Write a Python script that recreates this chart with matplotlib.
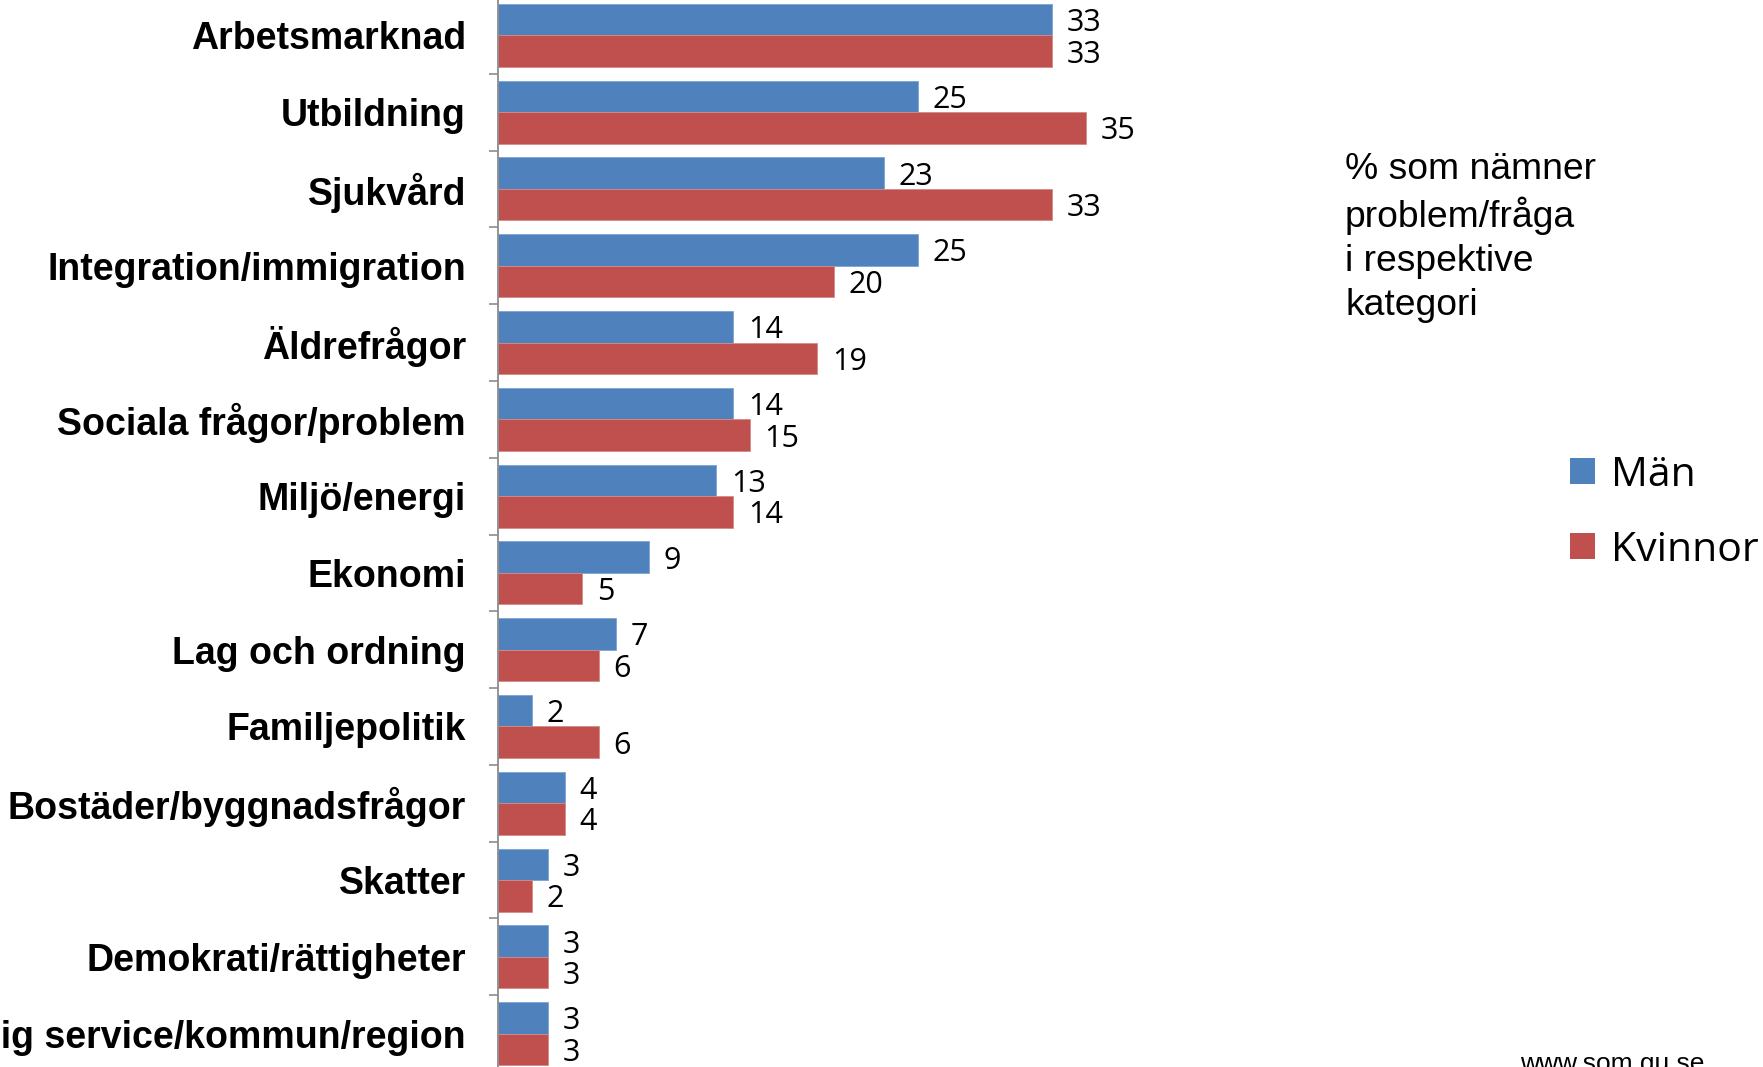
import numpy as np
import matplotlib.pyplot as plt
from matplotlib.patches import Patch

# data
categories = ["Arbetsmarknad", "Utbildning", "Sjukvård", "Integration/immigration",
              "Äldrefrågor", "Sociala frågor/problem", "Miljö/energi", "Ekonomi",
              "Lag och ordning", "Familjepolitik", "Bostäder/byggnadsfrågor",
              "Skatter", "Demokrati/rättigheter", "Offentlig service/kommun/region"]
man = [33, 25, 23, 25, 14, 14, 13, 9, 7, 2, 4, 3, 3, 3]
kvinnor = [33, 35, 33, 20, 19, 15, 14, 5, 6, 6, 4, 2, 3, 3]
series_names = ["Män", "Kvinnor"]

BLUE = "#4F81BD"
RED = "#C0504D"
GRAY = "#8C8C8C"

fig = plt.figure(figsize=(17.63, 10.67), dpi=100)
ax = fig.add_axes([498 / 1763, -5 / 1067, 672 / 1763, 1075 / 1067])

y = np.arange(len(categories))
h = 0.41
b1 = ax.barh(y - h / 2, man, height=h, color=BLUE, edgecolor="#7FA3D3", linewidth=0.6)
b2 = ax.barh(y + h / 2, kvinnor, height=h, color=RED, edgecolor="#D58A88", linewidth=0.6)

for bars, vals in ((b1, man), (b2, kvinnor)):
    for rect, v in zip(bars, vals):
        ax.annotate(str(v), (rect.get_width(), rect.get_y() + rect.get_height() / 2),
                    xytext=(10.5, -2.5), textcoords="offset points", va="center", ha="left",
                    fontsize=22, family="Open Sans", color="black")

ax.set_xlim(0, 40)
ax.set_ylim(len(categories) - 0.5, -0.5)

ax.set_yticks(y, labels=categories)
for lbl in ax.get_yticklabels():
    lbl.set_fontfamily("Liberation Sans")
    lbl.set_fontweight("bold")
    lbl.set_fontsize(27)
ax.tick_params(axis="y", which="major", length=0, pad=23)
ax.set_yticks(np.arange(len(categories) + 1) - 0.5, minor=True)
ax.tick_params(axis="y", which="minor", length=6.5, width=1.2, color=GRAY)
ax.set_xticks([])

for s in ("top", "right", "bottom"):
    ax.spines[s].set_visible(False)
ax.spines["left"].set_color(GRAY)
ax.spines["left"].set_linewidth(1.3)

fig.text(1345 / 1763, 1 - 152 / 1067, "% som nämner\nproblem/fråga\ni respektive\nkategori",
         ha="left", va="top", fontsize=26.8, family="Liberation Sans", linespacing=1.33)

handles = [Patch(facecolor=BLUE), Patch(facecolor=RED)]
fig.legend(handles, series_names, loc="upper left", bbox_to_anchor=(1570 / 1763, 1 - 455 / 1067),
           frameon=False, prop={"family": "Open Sans", "size": 29.5},
           handlelength=0.6, handleheight=0.6, handletextpad=0.4, labelspacing=0.85,
           borderpad=0, borderaxespad=0)

fig.text(1520 / 1763, -4 / 1067, "www.som.gu.se", ha="left", va="baseline",
         fontsize=19, family="Liberation Sans")

fig.savefig("out.png", dpi=100)
